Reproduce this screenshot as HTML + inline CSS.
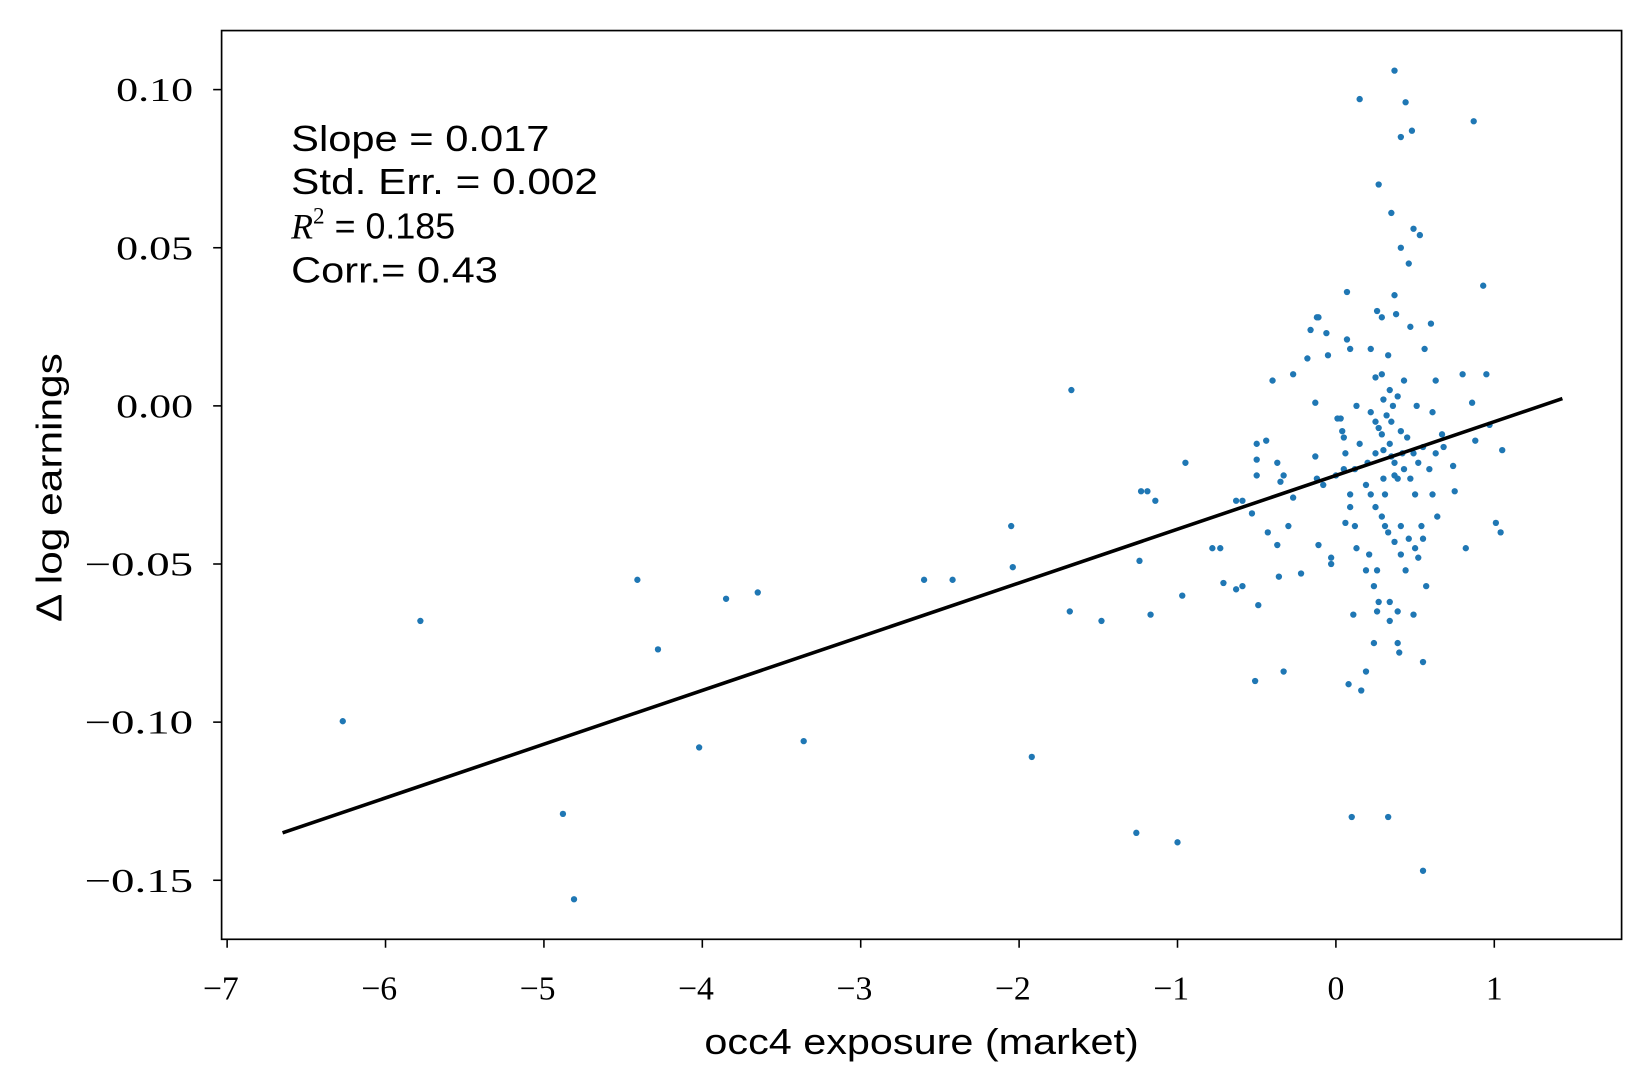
<!DOCTYPE html>
<html><head><meta charset="utf-8"><style>
html,body{margin:0;padding:0;background:#fff;}
svg{display:block}
.tk{font-family:"Liberation Serif",serif;font-size:32px;fill:#000}
.sn{font-family:"Liberation Sans",sans-serif;font-size:34px;fill:#000}
</style></head><body>
<svg id="chart" width="1645" height="1089" viewBox="0 0 1560 1033" xmlns="http://www.w3.org/2000/svg">
<rect width="1560" height="1033" fill="#fff"/>
<g id="pts"></g>
<g id="fit"></g>
<rect x="210" y="29" width="1328" height="862" fill="none" stroke="#000" stroke-width="1.6"/>
<g id="axes"></g>
<text class="sn" x="276" y="143" textLength="245" lengthAdjust="spacingAndGlyphs">Slope = 0.017</text>
<text class="sn" x="276" y="184" textLength="291" lengthAdjust="spacingAndGlyphs">Std. Err. = 0.002</text>
<text class="sn" x="276" y="226"><tspan font-family="Liberation Serif" font-style="italic" font-size="34">R</tspan><tspan font-family="Liberation Serif" font-size="22" dy="-14">2</tspan><tspan dy="14" font-size="34"> = 0.185</tspan></text>
<text class="sn" x="276" y="268" textLength="196" lengthAdjust="spacingAndGlyphs">Corr.= 0.43</text>
<text class="sn" x="668" y="1000" textLength="412" lengthAdjust="spacingAndGlyphs">occ4 exposure (market)</text>
<text class="sn" transform="translate(58,590) rotate(-90)" textLength="255" lengthAdjust="spacingAndGlyphs">Δ log earnings</text>
</svg>
<script>
const xTicks=[-7,-6,-5,-4,-3,-2,-1,0,1];
const yTicks=[0.10,0.05,0.00,-0.05,-0.10,-0.15];
const yTickLabels=["0.10","0.05","0.00","−0.05","−0.10","−0.15"];
const xTickLabels=["−7","−6","−5","−4","−3","−2","−1","0","1"];
const fitX=[-6.65,1.43];
const fitY=[-0.135,0.0023];
const ptsX=[-6.27,-5.78,-4.88,-4.81,-4.41,-4.28,-4.02,-3.85,-3.65,-3.36,-2.60,-2.42,-2.05,-2.04,-1.92,-1.68,-1.67,-1.48,-1.26,-1.24,-1.23,-1.19,-1.17,-1.14,-1.00,-0.97,-0.95,-0.78,-0.73,-0.71,-0.63,-0.63,-0.59,-0.59,-0.53,-0.51,-0.50,-0.50,-0.50,-0.49,-0.44,-0.43,-0.40,-0.37,-0.37,-0.36,-0.35,-0.33,-0.33,-0.30,-0.27,-0.27,-0.22,-0.18,-0.16,-0.13,-0.13,-0.12,-0.12,-0.11,-0.11,-0.08,-0.06,-0.05,-0.03,-0.03,0.01,0.03,0.00,0.04,0.05,0.07,0.07,0.05,0.06,0.08,0.09,0.09,0.10,0.11,0.12,0.13,0.13,0.15,0.16,0.19,0.20,0.21,0.22,0.24,0.25,0.26,0.26,0.26,0.27,0.29,0.29,0.29,0.30,0.31,0.31,0.33,0.33,0.34,0.34,0.35,0.35,0.36,0.37,0.37,0.37,0.38,0.39,0.39,0.40,0.41,0.41,0.43,0.44,0.45,0.46,0.47,0.48,0.49,0.50,0.49,0.51,0.53,0.54,0.55,0.55,0.56,0.57,0.60,0.61,0.63,0.64,0.67,0.68,0.74,0.75,0.80,0.82,0.86,0.87,0.88,0.93,0.95,0.97,1.01,1.04,1.05,
0.22,0.25,0.27,0.30,0.32,0.34,0.37,0.39,0.41,0.42,0.19,0.22,0.25,0.29,0.33,0.37,0.41,0.44,0.47,0.50,0.49,0.52,0.55,0.59,0.61,0.63,0.15,0.12,0.09,0.06,0.19,0.24,0.27,0.34,0.41,0.46,0.52,0.55,0.30,0.25,0.35,0.39,0.43];
const ptsY=[-0.0997,-0.068,-0.129,-0.156,-0.055,-0.077,-0.108,-0.061,-0.059,-0.106,-0.055,-0.055,-0.038,-0.051,-0.111,-0.065,0.005,-0.068,-0.135,-0.049,-0.027,-0.027,-0.066,-0.030,-0.138,-0.060,-0.018,-0.045,-0.045,-0.056,-0.030,-0.058,-0.057,-0.030,-0.034,-0.087,-0.012,-0.017,-0.022,-0.063,-0.011,-0.040,0.008,-0.044,-0.018,-0.054,-0.024,-0.084,-0.022,-0.038,0.010,-0.029,-0.053,0.015,0.024,-0.016,0.001,0.028,-0.023,-0.044,0.028,-0.025,0.023,0.016,-0.050,-0.048,-0.004,-0.004,-0.022,-0.008,-0.010,0.036,0.021,-0.020,-0.015,-0.088,0.018,-0.032,-0.130,-0.066,-0.038,-0.045,0.000,0.097,-0.090,-0.084,-0.018,-0.047,0.018,-0.075,0.009,-0.065,-0.052,0.030,0.070,0.010,0.028,-0.009,-0.014,-0.028,-0.038,0.016,-0.130,0.005,-0.062,0.061,-0.016,0.000,0.106,0.035,-0.022,0.029,-0.065,-0.075,-0.078,0.050,0.085,-0.020,0.096,-0.010,0.045,0.025,0.087,0.056,-0.045,-0.066,0.000,0.054,-0.038,-0.081,-0.147,0.018,-0.057,0.026,-0.002,0.008,-0.035,-0.009,-0.013,-0.019,-0.027,0.010,-0.045,0.001,0.090,-0.011,0.038,0.010,-0.006,-0.037,-0.040,-0.014,
-0.002,-0.005,-0.007,0.002,-0.003,-0.012,-0.018,-0.023,-0.008,-0.015,-0.025,-0.028,-0.032,-0.035,-0.040,-0.043,-0.047,-0.052,-0.023,-0.028,-0.015,-0.018,-0.013,-0.020,-0.028,-0.015,-0.012,-0.020,-0.028,-0.037,-0.052,-0.057,-0.062,-0.068,-0.038,-0.042,-0.048,-0.042,-0.023,-0.015,-0.005,0.003,0.008];
const NS="http://www.w3.org/2000/svg";
function sx(v){return 1267+v*150.25;}
function sy(v){return 385-v*3000;}
function mk(t,a,p){const e=document.createElementNS(NS,t);for(const k in a)e.setAttribute(k,a[k]);p.appendChild(e);return e;}
const axes=document.getElementById('axes');
xTicks.forEach((t,i)=>{
  const l=mk('line',{x1:sx(t),x2:sx(t),y1:891,y2:899,stroke:'#000','stroke-width':1.5},axes);
  
  
  const tx=mk('text',{x:sx(t)+(t<0?-6:0),y:948,'text-anchor':'middle',class:'tk'},axes);
  tx.textContent=xTickLabels[i];
  
  
});
yTicks.forEach((t,i)=>{
  const l=mk('line',{x1:202,x2:210,y1:sy(t),y2:sy(t),stroke:'#000','stroke-width':1.5},axes);
  
  
  const neg=t<0;
  const tx=mk('text',{x:183-(neg?103:73),y:sy(t)+11,class:'tk',textLength:neg?103:73,lengthAdjust:'spacingAndGlyphs'},axes);
  tx.textContent=yTickLabels[i];
  
  
});
const pg=document.getElementById('pts');
for(let i=0;i<ptsX.length;i++){
  const c=mk('circle',{cx:sx(ptsX[i]),cy:sy(ptsY[i]),r:3,fill:'#1f77b4'},pg);
  
  
}
const fl=mk('line',{x1:sx(fitX[0]),y1:sy(fitY[0]),x2:sx(fitX[1]),y2:sy(fitY[1]),stroke:'#000','stroke-width':3.4},document.getElementById('fit'));


</script>
</body></html>
